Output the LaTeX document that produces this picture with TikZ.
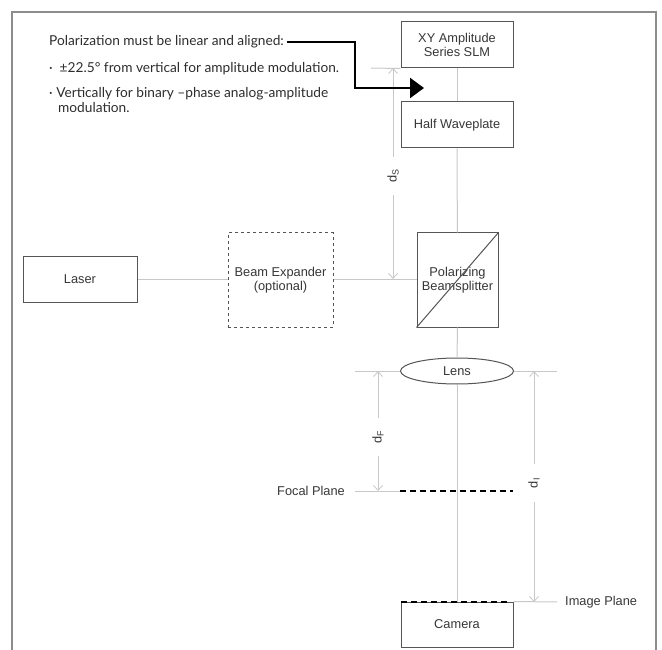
\documentclass[tikz,border=0pt]{standalone}
\usepackage{fontspec}
\setmainfont{Liberation Sans}
\newfontfamily\notefont{Lato}
\usetikzlibrary{arrows.meta,shapes.geometric}
\definecolor{beamgray}{RGB}{200,200,200}
\definecolor{boxgray}{RGB}{85,85,85}
\definecolor{framegray}{RGB}{140,140,140}
\definecolor{labelgray}{RGB}{55,55,55}
\definecolor{notegray}{RGB}{45,45,45}
\newcommand{\lbl}{\fontsize{12.8}{14}\selectfont}

\begin{document}
\begin{tikzpicture}[x=1pt,y=-1pt,
    part/.style={draw=boxgray, line width=1pt, fill=white, text=labelgray,
      align=center, inner sep=0pt, font=\lbl},
    beam/.style={draw=beamgray, line width=1pt},
    dim/.style={draw=beamgray, line width=0.8pt,
      {Straight Barb[length=5pt,width=9pt]}-{Straight Barb[length=5pt,width=9pt]}},
    dimlabel/.style={fill=white, text=labelgray, font=\lbl, rotate=90,
      minimum width=38pt, inner sep=1pt},
    plane/.style={draw=black, line width=2pt, dash pattern=on 6pt off 4pt},
    note/.style={anchor=west, text=notegray, inner sep=0pt,
      font=\notefont\fontsize{13.7}{15}\selectfont, align=left}]
  \useasboundingbox (0,0) rectangle (662,650);
  % frame
  \draw[framegray, line width=1.5pt] (12,650) -- (12,12) -- (656,12) -- (656,650);

  % parts of the set-up
  \node[part, minimum width=112pt, minimum height=46pt] (slm) at (457,45) {XY Amplitude\\Series SLM};
  \node[part, minimum width=112pt, minimum height=46pt] (hwp) at (457,125) {Half Waveplate};
  \node[part, minimum width=81pt, minimum height=94pt] (pbs) at (457.5,280) {Polarizing\\Beamsplitter};
  \draw[boxgray, line width=1pt] (pbs.south west) -- (pbs.north east);
  \node[part, minimum width=114pt, minimum height=46pt] (laser) at (80,279) {Laser};
  \node[part, dashed, minimum width=105pt, minimum height=94pt] (bexp) at (280.5,280) {Beam Expander\\(optional)};
  \node[part, ellipse, minimum width=113pt, minimum height=26pt] (lens) at (457,371) {Lens};
  \node[part, minimum width=112pt, minimum height=45pt] (cam) at (457,624.5) {Camera};

  % beam path
  \draw[beam] (laser.east) -- (laser.east -| bexp.west);
  \draw[beam] (bexp.east |- laser.east) -- (laser.east -| pbs.west);
  \draw[beam] (slm) -- (hwp);
  \draw[beam] (hwp) -- (pbs);
  \draw[beam] (pbs.south) -- (lens.north);
  \draw[beam] (lens.south) -- (cam.north);

  % planes
  \coordinate (fp) at (457,491);
  \coordinate (ip) at (457,602);
  \draw[beam] (355,491) -- (400,491);
  \draw[plane] (400,491) -- (513,491);
  \node[anchor=east, text=labelgray, font=\lbl, inner sep=0pt] (fplbl) at (345,491) {Focal Plane};
  \draw[plane] (401,602) -- (510,602);
  \draw[beam] (cam.north east) -- (557,602);
  \node[anchor=west, text=labelgray, font=\lbl, inner sep=0pt] (iplbl) at (565,602) {Image Plane};

  % distances
  \draw[beam] (371,68) -- (slm.south west);
  \draw[beam] (355,371) -- (lens.west);
  \draw[beam] (lens.east) -- (557,371);
  \draw[dim] (393,68) -- (393,279);
  \node[dimlabel] (ds) at (393,176) {d\textsubscript{S}};
  \draw[dim] (378,371) -- (378,491);
  \node[dimlabel] (df) at (378,437) {d\textsubscript{F}};
  \draw[dim] (534,371) -- (534,602);
  \node[dimlabel] (di) at (534,483) {d\textsubscript{I}};

  % polarization note
  \node[note] (polnote) at (49,42) {Polarization must be linear and aligned:};
  \node[note] (amp) at (49,69) {\textperiodcentered\hspace{7pt}±22.5° from vertical for amplitude modulation.};
  \node[note, anchor=north west] (bin) at (49,87) {\textperiodcentered\ Vertically for binary –phase analog-amplitude\\\hspace*{9pt}modulation.};
  \coordinate (bend) at (355,88);
  \coordinate (slmin) at (424,88);
  \draw[line width=2.5pt, -{Triangle[length=14pt,width=20pt]}] ([xshift=3pt]polnote.east) -| (bend) -- (slmin);
\end{tikzpicture}
\end{document}
